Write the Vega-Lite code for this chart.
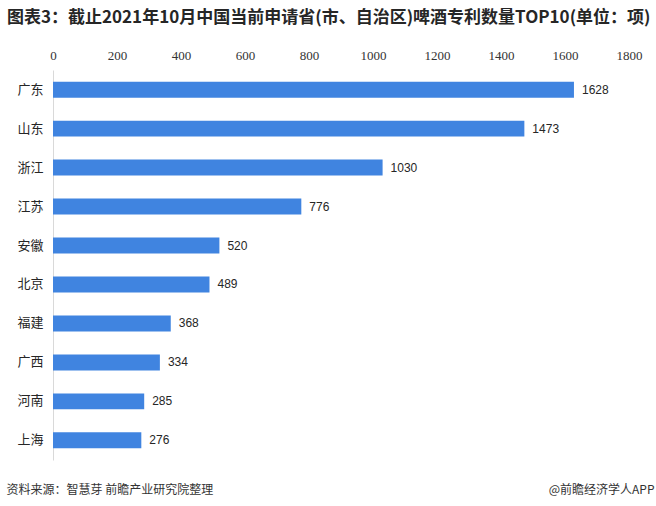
{
  "$schema": "https://vega.github.io/schema/vega-lite/v6.json",
  "width": 576,
  "height": 390,
  "autosize": "none",
  "padding": {"left": 53, "top": 70, "right": 27, "bottom": 46},
  "background": "white",
  "title": {
    "text": "图表3：截止2021年10月中国当前申请省(市、自治区)啤酒专利数量TOP10(单位：项)",
    "anchor": "start",
    "frame": "group",
    "dx": -46,
    "dy": -22,
    "font": "Noto Sans CJK SC",
    "fontSize": 17,
    "fontWeight": "bold",
    "color": "#262626",
    "offset": 0
  },
  "config": {
    "view": {"stroke": null},
    "axis": {"grid": false, "ticks": false}
  },
  "data": {
    "values": [
      {"region": "广东", "value": 1628},
      {"region": "山东", "value": 1473},
      {"region": "浙江", "value": 1030},
      {"region": "江苏", "value": 776},
      {"region": "安徽", "value": 520},
      {"region": "北京", "value": 489},
      {"region": "福建", "value": 368},
      {"region": "广西", "value": 334},
      {"region": "河南", "value": 285},
      {"region": "上海", "value": 276}
    ]
  },
  "layer": [
    {
      "mark": {"type": "bar", "color": "#4084e0"},
      "encoding": {
        "y": {
          "field": "region",
          "type": "nominal",
          "sort": null,
          "scale": {"paddingInner": 0.59, "paddingOuter": 0.3},
          "axis": {
            "orient": "left",
            "title": null,
            "domainColor": "#d9d9d9",
            "labelFont": "Noto Sans CJK SC",
            "labelFontSize": 13,
            "labelColor": "#262626",
            "labelPadding": 10
          }
        },
        "x": {
          "field": "value",
          "type": "quantitative",
          "scale": {"domain": [0, 1800]},
          "axis": {
            "orient": "top",
            "title": null,
            "domain": false,
            "format": "d",
            "values": [0, 200, 400, 600, 800, 1000, 1200, 1400, 1600, 1800],
            "labelFont": "Liberation Sans Narrow",
            "labelFontSize": 13,
            "labelColor": "#333333",
            "labelPadding": 8,
            "labelFlush": false
          }
        }
      }
    },
    {
      "mark": {"type": "text", "align": "left", "dx": 8, "font": "Liberation Sans", "fontSize": 12, "color": "#262626"},
      "encoding": {
        "y": {"field": "region", "type": "nominal", "sort": null, "axis": null},
        "x": {"field": "value", "type": "quantitative", "axis": null},
        "text": {"field": "value", "type": "quantitative", "format": "d"}
      }
    },
    {
      "mark": {"type": "rule", "opacity": 0},
      "encoding": {
        "x": {
          "field": "value",
          "type": "quantitative",
          "axis": {
            "orient": "bottom",
            "domain": false,
            "labels": false,
            "title": "资料来源：智慧芽 前瞻产业研究院整理",
            "titleFont": "Noto Sans CJK SC",
            "titleFontSize": 12,
            "titleFontWeight": "normal",
            "titleColor": "#333333",
            "titleAnchor": "start",
            "titleAlign": "left",
            "titleBaseline": "middle",
            "titleX": -47,
            "titleY": 29
          }
        },
        "y": {
          "field": "region",
          "type": "nominal",
          "sort": null,
          "axis": {
            "orient": "right",
            "domain": false,
            "labels": false,
            "title": "@前瞻经济学人APP",
            "titleAngle": 0,
            "titleFont": "Noto Sans CJK SC",
            "titleFontSize": 12,
            "titleFontWeight": "normal",
            "titleColor": "#333333",
            "titleAlign": "right",
            "titleBaseline": "middle",
            "titleX": 25,
            "titleY": 419
          }
        }
      }
    }
  ],
  "resolve": {"axis": {"x": "independent", "y": "independent"}}
}
